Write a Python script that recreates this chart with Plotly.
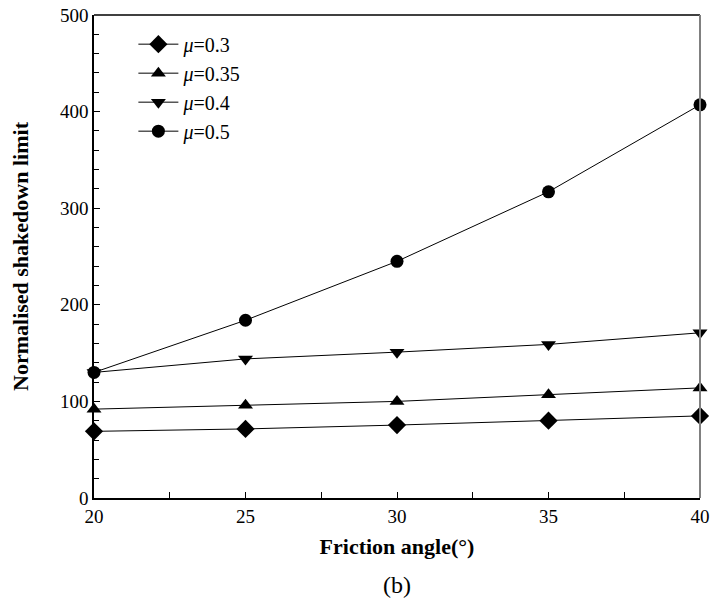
import plotly.graph_objects as go

# Friction angle (degrees)
friction_angle = [20, 25, 30, 35, 40]

# Normalised shakedown limit for each friction coefficient
mu_03 = [69, 71.5, 75.5, 80, 85]
mu_035 = [92, 96, 100, 107, 114]
mu_04 = [130, 144, 151, 159, 171]
mu_05 = [130, 184, 245, 317, 407]

series = [
    ("<i>μ</i>=0.3", mu_03, "diamond", 14),
    ("<i>μ</i>=0.35", mu_035, "triangle-up", 13),
    ("<i>μ</i>=0.4", mu_04, "triangle-down", 13),
    ("<i>μ</i>=0.5", mu_05, "circle", 13),
]

serif = "Liberation Serif"

fig = go.Figure()
for i, (name, vals, sym, size) in enumerate(series):
    fig.add_trace(go.Scatter(
        x=friction_angle, y=vals, name=name, mode="lines+markers",
        line=dict(color="black", width=1),
        marker=dict(symbol=sym, size=size, color="black"),
        legendgroup=f"g{i}",
        cliponaxis=False,
    ))

fig.update_layout(
    width=712, height=606,
    margin=dict(l=94, r=12, t=15, b=108),
    paper_bgcolor="white", plot_bgcolor="white",
    font=dict(family=serif, color="black", size=19),
    showlegend=True,
    legend=dict(
        x=0.065, y=0.98, xanchor="left", yanchor="top",
        bgcolor="rgba(0,0,0,0)", tracegroupgap=0,
        font=dict(family=serif, size=20),
        itemwidth=40,
    ),
    xaxis=dict(
        range=[20, 40], tickvals=[20, 25, 30, 35, 40],
        automargin=False,
        showgrid=False, zeroline=False,
        showline=True, linecolor="black", linewidth=1.5,
        mirror=False,
        ticks="inside", ticklen=6, tickcolor="black",
        minor=dict(dtick=2.5, ticks="inside", ticklen=6, tickcolor="black"),
        tickfont=dict(size=19),
        title=dict(text="<b>Friction angle(°)</b>", font=dict(size=22), standoff=13),
    ),
    yaxis=dict(
        range=[0, 500], tickvals=[0, 100, 200, 300, 400, 500],
        automargin=False,
        showgrid=False, zeroline=False,
        showline=True, linecolor="black", linewidth=1.5,
        ticks="inside", ticklen=6, tickcolor="black",
        minor=dict(dtick=20, ticks="inside", ticklen=5, tickcolor="black"),
        tickfont=dict(size=19),
        title=dict(text="<b>Normalised shakedown limit</b>", font=dict(size=22), standoff=25),
    ),
)

# Top and right frame lines
fig.add_shape(type="line", xref="paper", yref="paper", x0=0, x1=1, y0=1, y1=1,
              line=dict(color="black", width=1.5))
fig.add_shape(type="line", xref="paper", yref="paper", x0=1, x1=1, y0=0, y1=1,
              line=dict(color="#808080", width=2))

# Panel label
fig.add_annotation(text="(b)", xref="paper", yref="paper", x=0.5, y=-0.15,
                   showarrow=False, yanchor="top",
                   font=dict(family=serif, size=24, color="black"))

fig.write_html("out.html")
